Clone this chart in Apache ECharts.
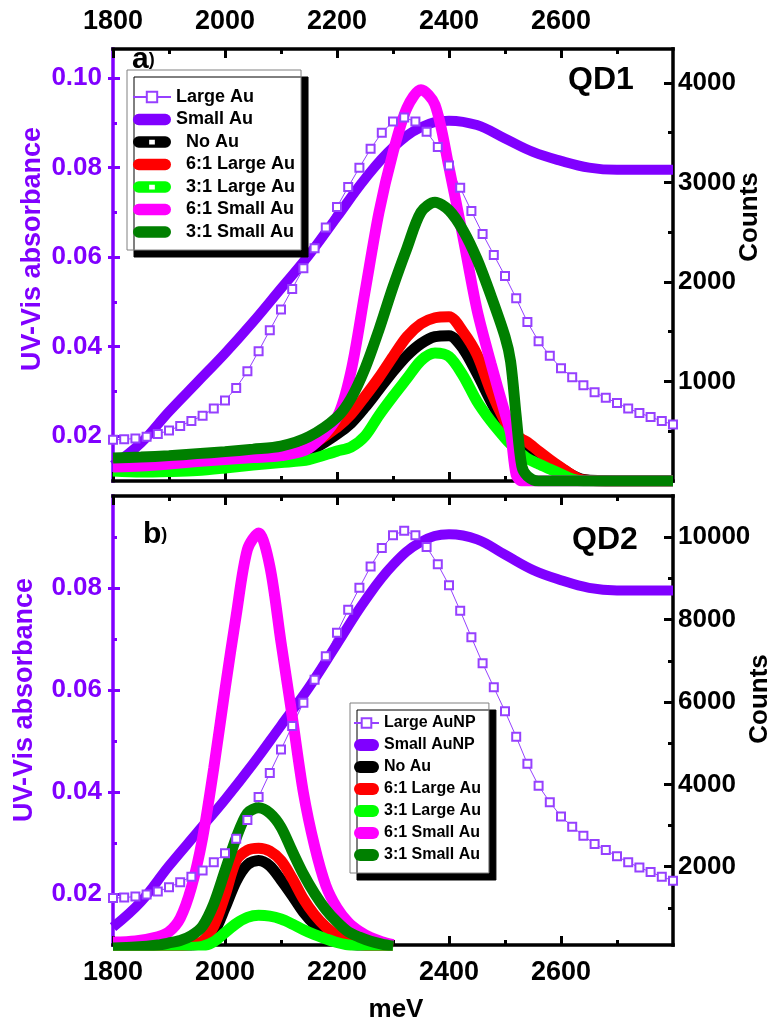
<!DOCTYPE html>
<html><head><meta charset="utf-8">
<script src="https://cdn.jsdelivr.net/npm/echarts@6/dist/echarts.min.js"></script>
<style>html,body{margin:0;padding:0;background:#fff}#c{width:777px;height:1029px}</style>
</head><body><div id="c"></div>
<script>
// ---------- data ----------
// UV-Vis absorbance (left axes)
const uvEnergy = [1800,1850,1900,1950,2000,2050,2100,2150,2200,2250,2300,2350,2400,2450,2500,2550,2600,2650,2700,2750,2800];
const smallAuAbs = [0.0135,0.0185,0.0255,0.032,0.0385,0.0455,0.053,0.0605,0.069,0.0775,0.0845,0.089,0.0905,0.0895,0.0865,0.0835,0.0815,0.080,0.0795,0.0795,0.0795];
const largeAuEnergy = [1800,1820,1840,1860,1880,1900,1920,1940,1960,1980,2000,2020,2040,2060,2080,2100,2120,2140,2160,2180,2200,2220,2240,2260,2280,2300,2320,2340,2360,2380,2400,2420,2440,2460,2480,2500,2520,2540,2560,2580,2600,2620,2640,2660,2680,2700,2720,2740,2760,2780,2800];
const largeAuAbs = [0.0192,0.0193,0.0195,0.0199,0.0205,0.0213,0.0223,0.0234,0.0246,0.0262,0.0280,0.0308,0.0345,0.0390,0.0437,0.0483,0.0529,0.0575,0.0620,0.0666,0.0712,0.0757,0.0800,0.0842,0.0878,0.0903,0.0912,0.0903,0.0880,0.0846,0.0805,0.0755,0.0703,0.0652,0.0605,0.0558,0.0508,0.0455,0.0412,0.0380,0.0352,0.0332,0.0314,0.0298,0.0286,0.0274,0.0262,0.0252,0.0243,0.0234,0.0226];

// QD1 photoluminescence counts (top panel, right axis)
const qd1Energy = [1800,1850,1900,1950,2000,2050,2100,2150,2200,2225,2250,2275,2300,2325,2350,2375,2400,2425,2450,2475,2500,2510,2520,2530,2540,2560,2580,2600,2620,2640,2700,2800];
const qd1NoAu    = [150,160,170,185,200,220,240,300,470,580,740,920,1100,1260,1380,1450,1460,1330,1080,800,540,460,400,360,320,250,200,130,60,15,0,0];
const qd1Large61 = [175,185,195,210,225,245,270,350,540,670,850,1040,1250,1450,1580,1640,1650,1500,1270,900,600,520,460,420,390,300,215,135,60,10,0,0];
const qd1Large31 = [100,90,95,105,130,160,185,215,300,340,450,660,850,1030,1210,1285,1250,1060,800,600,430,370,320,270,225,170,120,70,20,0,0,0];
const qd1Small61 = [140,150,170,195,215,235,255,330,640,1100,1900,2700,3300,3750,3930,3780,3150,2450,1720,1180,680,480,60,0,0,0,0,0,0,0,0,0];
const qd1Small31 = [230,240,255,275,295,320,350,445,640,830,1130,1520,1950,2340,2700,2800,2720,2520,2230,1860,1450,1200,650,150,50,0,0,0,0,0,0,0];

// QD2 photoluminescence counts (bottom panel, right axis)
const qd2Energy = [1800,1840,1880,1900,1920,1940,1960,1980,2000,2020,2040,2060,2080,2100,2120,2140,2160,2180,2200,2220,2240,2260,2280,2300];
const qd2NoAu    = [5,10,20,35,55,90,150,400,1000,1650,2050,2150,2020,1680,1300,900,600,400,240,140,80,45,25,10];
const qd2Large61 = [10,15,30,50,80,120,190,560,1300,2150,2400,2450,2380,2150,1720,1220,830,540,330,200,120,70,40,20];
const qd2Large31 = [0,0,5,10,20,40,70,180,400,620,770,820,800,730,610,470,350,250,160,100,60,35,20,10];
const qd2Small61 = [170,200,300,420,750,1500,2700,4400,6300,8100,9700,10100,9300,7450,5650,3800,2500,1550,1000,650,430,280,180,110];
const qd2Small31 = [30,50,100,150,210,330,560,1100,1900,2700,3300,3430,3300,2960,2380,1820,1350,960,660,420,290,190,120,70];

// tick values
const xMajor = [1800,2000,2200,2400,2600];
const xMinor = [1900,2100,2300,2500,2700];
const absMajorTop = [0.02,0.04,0.06,0.08,0.10];
const absMajorBot = [0.02,0.04,0.06,0.08];
const absMinor = [0.03,0.05,0.07,0.09];
const cntMajorTop = [1000,2000,3000,4000];
const cntMinorTop = [500,1500,2500,3500];
const cntMajorBot = [2000,4000,6000,8000,10000];
const cntMinorBot = [1000,3000,5000,7000,9000];

// ---------- styles ----------
const PURPLE = '#8000ff', SQ = '#9640ff', BLACK = '#000', RED = '#ff0000', LIME = '#00ff00', MAG = '#ff00ff', DG = '#008000';
const FONT = "'Liberation Sans', Arial, Helvetica, sans-serif";
const zip = (xs, ys) => xs.map((x, i) => [x, ys[i]]);

function xAx(grid, pos, ticks, len, labels, line) {
  return {
    type: 'value', gridIndex: grid, position: pos, min: 1800, max: 2800,
    axisLine: { show: line, lineStyle: { color: BLACK, width: 3.5, cap: 'square' } },
    axisTick: { show: true, inside: true, length: len, customValues: ticks, lineStyle: { color: BLACK, width: 3 } },
    axisLabel: labels ? { show: true, customValues: ticks, margin: 14, color: BLACK, fontSize: 27, fontWeight: 'bold', fontFamily: FONT,
      formatter: v => String(Math.round(v)) } : { show: false },
    splitLine: { show: false }
  };
}
function yAx(grid, pos, min, max, ticks, len, labels, line, color, margin, outside) {
  return {
    type: 'value', gridIndex: grid, position: pos, min: min, max: max,
    axisLine: { show: line, onZero: false, lineStyle: { color: color, width: 3.5, cap: 'square' } },
    axisTick: { show: true, inside: !outside, length: len, customValues: ticks, lineStyle: { color: color, width: 3 } },
    axisLabel: labels ? { show: true, customValues: ticks, margin: margin, color: color, fontSize: 26, fontWeight: 'bold', fontFamily: FONT,
      formatter: v => (max < 1 ? v.toFixed(2) : String(Math.round(v))) } : { show: false },
    splitLine: { show: false }
  };
}

const PILL40 = 'path://M6,0 L34,0 A6,6 0 0 1 34,12 L6,12 A6,6 0 0 1 6,0 Z';
const HOLE40 = PILL40 + ' M17,3.5 L17,8.5 L23,8.5 L23,3.5 Z';
const PILL25 = 'path://M6,0 L19,0 A6,6 0 0 1 19,12 L6,12 A6,6 0 0 1 6,0 Z';

function uvSeries(name, xi, yi) {
  return [
    { name: name[0], type: 'line', xAxisIndex: xi, yAxisIndex: yi, data: zip(largeAuEnergy, largeAuAbs),
      symbol: 'emptyRect', symbolSize: 8, showSymbol: true, showAllSymbol: true,
      lineStyle: { width: 1, color: SQ }, itemStyle: { color: SQ, borderWidth: 1.3 } },
    { name: name[1], type: 'line', xAxisIndex: xi, yAxisIndex: yi, data: zip(uvEnergy, smallAuAbs),
      symbol: 'none', smooth: 0.4, lineStyle: { width: 10, color: PURPLE }, itemStyle: { color: PURPLE } }
  ];
}
function plSeries(name, color, xs, ys, xi, yi) {
  return { name: name, type: 'line', xAxisIndex: xi, yAxisIndex: yi, data: zip(xs, ys), symbol: 'none', smooth: 0.3,
    lineStyle: { width: 11, color: color }, itemStyle: { color: color } };
}

const legendCommon = {
  orient: 'vertical', selectedMode: false, backgroundColor: '#fff', borderColor: '#808080', borderWidth: 1,
  shadowColor: '#000', shadowBlur: 0, shadowOffsetX: 7, shadowOffsetY: 7,
  itemStyle: { borderWidth: 0 }
};

const option = {
  animation: false,
  backgroundColor: '#fff',
  grid: [
    { left: 113, top: 49, width: 560, height: 432 },
    { left: 113, top: 496, width: 560, height: 449 }
  ],
  xAxis: [
    xAx(0, 'bottom', xMajor, 9, false, true),
    xAx(0, 'bottom', xMinor, 5, false, false),
    xAx(0, 'top', xMajor, 9, true, true),
    xAx(0, 'top', xMinor, 5, false, false),
    xAx(1, 'bottom', xMajor, 9, true, true),
    xAx(1, 'bottom', xMinor, 5, false, false),
    xAx(1, 'top', xMajor, 9, false, true),
    xAx(1, 'top', xMinor, 5, false, false)
  ],
  yAxis: [
    yAx(0, 'left', 0.01, 0.1065, absMajorTop, 7, true, true, PURPLE, 11, false),
    yAx(0, 'left', 0.01, 0.1065, absMinor, 4, false, false, PURPLE, 0, false),
    yAx(0, 'right', 0, 4340, cntMajorTop, 9, true, true, BLACK, 5, false),
    yAx(0, 'right', 0, 4340, cntMinorTop, 5, false, false, BLACK, 0, false),
    yAx(1, 'left', 0.01, 0.098, absMajorBot, 7, true, true, PURPLE, 11, false),
    yAx(1, 'left', 0.01, 0.098, absMinor, 4, false, false, PURPLE, 0, false),
    yAx(1, 'right', 100, 11000, cntMajorBot, 9, true, true, BLACK, 5, false),
    yAx(1, 'right', 100, 11000, cntMinorBot, 5, false, false, BLACK, 0, false),
    yAx(0, 'left', 0.01, 0.1065, absMajorTop, 5, false, false, PURPLE, 0, true),
    yAx(1, 'left', 0.01, 0.098, absMajorBot, 5, false, false, PURPLE, 0, true)
  ],
  legend: [
    Object.assign({}, legendCommon, {
      left: 127, top: 70, padding: [18, 6, 9, 5], itemWidth: 38, itemHeight: 13, itemGap: 4.5,
      textStyle: { fontSize: 18, fontWeight: 'bold', color: BLACK, fontFamily: FONT },
      formatter: n => (n === 'Large Au' || n === 'Small Au') ? n : '  ' + n,
      data: [
        { name: 'Large Au' },
        { name: 'Small Au', icon: PILL40 },
        { name: 'No Au', icon: HOLE40 },
        { name: '6:1 Large Au', icon: PILL40 },
        { name: '3:1 Large Au', icon: HOLE40 },
        { name: '6:1 Small Au', icon: PILL40 },
        { name: '3:1 Small Au', icon: PILL40 }
      ]
    }),
    Object.assign({}, legendCommon, {
      left: 350, top: 703, padding: [12, 8, 10, 3], itemWidth: 25, itemHeight: 12, itemGap: 6,
      textStyle: { fontSize: 16, fontWeight: 'bold', color: BLACK, fontFamily: FONT },
      data: [
        { name: 'Large AuNP' },
        { name: 'Small AuNP', icon: PILL25 },
        { name: 'No Au', icon: PILL25 },
        { name: '6:1 Large Au', icon: PILL25 },
        { name: '3:1 Large Au', icon: PILL25 },
        { name: '6:1 Small Au', icon: PILL25 },
        { name: '3:1 Small Au', icon: PILL25 }
      ]
    })
  ],
  series: [].concat(
    uvSeries(['Large Au', 'Small Au'], 0, 0),
    [
      plSeries('No Au', BLACK, qd1Energy, qd1NoAu, 0, 2),
      plSeries('6:1 Large Au', RED, qd1Energy, qd1Large61, 0, 2),
      plSeries('3:1 Large Au', LIME, qd1Energy, qd1Large31, 0, 2),
      plSeries('6:1 Small Au', MAG, qd1Energy, qd1Small61, 0, 2),
      plSeries('3:1 Small Au', DG, qd1Energy, qd1Small31, 0, 2)
    ],
    uvSeries(['Large AuNP', 'Small AuNP'], 4, 4),
    [
      plSeries('No Au', BLACK, qd2Energy, qd2NoAu, 4, 6),
      plSeries('6:1 Large Au', RED, qd2Energy, qd2Large61, 4, 6),
      plSeries('3:1 Large Au', LIME, qd2Energy, qd2Large31, 4, 6),
      plSeries('6:1 Small Au', MAG, qd2Energy, qd2Small61, 4, 6),
      plSeries('3:1 Small Au', DG, qd2Energy, qd2Small31, 4, 6)
    ]
  ),
  graphic: [
    { type: 'text', x: 132, y: 60, style: { text: '{a|a}{p|)}', textVerticalAlign: 'middle',
      rich: { a: { fontSize: 30, fontWeight: 'bold', fontFamily: FONT, fill: BLACK }, p: { fontSize: 18, fontWeight: 'bold', fontFamily: FONT, fill: BLACK } } } },
    { type: 'text', x: 143, y: 535, style: { text: '{a|b}{p|)}', textVerticalAlign: 'middle',
      rich: { a: { fontSize: 30, fontWeight: 'bold', fontFamily: FONT, fill: BLACK }, p: { fontSize: 18, fontWeight: 'bold', fontFamily: FONT, fill: BLACK } } } },
    { type: 'text', x: 568, y: 80, style: { text: 'QD1', font: 'bold 32px ' + FONT, fill: BLACK, textVerticalAlign: 'middle' } },
    { type: 'text', x: 572, y: 540, style: { text: 'QD2', font: 'bold 32px ' + FONT, fill: BLACK, textVerticalAlign: 'middle' } },
    { type: 'text', x: 33, y: 249, rotation: Math.PI / 2, style: { text: 'UV-Vis absorbance', font: 'bold 27px ' + FONT, fill: PURPLE, textAlign: 'center', textVerticalAlign: 'middle' } },
    { type: 'text', x: 25, y: 700, rotation: Math.PI / 2, style: { text: 'UV-Vis absorbance', font: 'bold 27px ' + FONT, fill: PURPLE, textAlign: 'center', textVerticalAlign: 'middle' } },
    { type: 'text', x: 750, y: 217, rotation: Math.PI / 2, style: { text: 'Counts', font: 'bold 26px ' + FONT, fill: BLACK, textAlign: 'center', textVerticalAlign: 'middle' } },
    { type: 'text', x: 760, y: 699, rotation: Math.PI / 2, style: { text: 'Counts', font: 'bold 26px ' + FONT, fill: BLACK, textAlign: 'center', textVerticalAlign: 'middle' } },
    { type: 'text', x: 396, y: 1010, style: { text: 'meV', font: 'bold 26px ' + FONT, fill: BLACK, textAlign: 'center', textVerticalAlign: 'middle' } }
  ]
};

const chart = echarts.init(document.getElementById('c'), null, { renderer: 'canvas' });
chart.setOption(option);
</script>
</body></html>
